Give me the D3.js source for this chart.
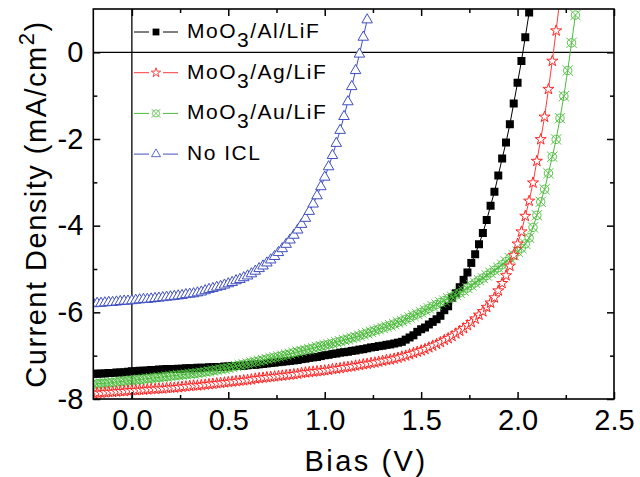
<!DOCTYPE html>
<html>
<head>
<meta charset="utf-8">
<script src="https://cdn.jsdelivr.net/npm/d3@7"></script>
<style>
  html, body { margin: 0; padding: 0; background: #fff; }
  svg { display: block; font-family: "Liberation Sans", Arial, sans-serif; }
</style>
</head>
<body>
<div id="chart"></div>
<script>
// Bias sweep (V), shared by all four devices
const bias = [
  -0.2, -0.18, -0.16, -0.14, -0.12, -0.1, -0.08, -0.06, -0.04, -0.02,
  0, 0.02, 0.04, 0.06, 0.08, 0.1, 0.12, 0.14, 0.16, 0.18,
  0.2, 0.22, 0.24, 0.26, 0.28, 0.3, 0.32, 0.34, 0.36, 0.38,
  0.4, 0.42, 0.44, 0.46, 0.48, 0.5, 0.52, 0.54, 0.56, 0.58,
  0.6, 0.62, 0.64, 0.66, 0.68, 0.7, 0.72, 0.74, 0.76, 0.78,
  0.8, 0.82, 0.84, 0.86, 0.88, 0.9, 0.92, 0.94, 0.96, 0.98,
  1.0, 1.02, 1.04, 1.06, 1.08, 1.1, 1.12, 1.14, 1.16, 1.18,
  1.2, 1.22, 1.24, 1.26, 1.28, 1.3, 1.32, 1.34, 1.36, 1.38,
  1.4, 1.42, 1.44, 1.46, 1.48, 1.5, 1.52, 1.54, 1.56, 1.58,
  1.6, 1.62, 1.64, 1.66, 1.68, 1.7, 1.72, 1.74, 1.76, 1.78,
  1.8, 1.82, 1.84, 1.86, 1.88, 1.9, 1.92, 1.94, 1.96, 1.98,
  2.0, 2.02, 2.04, 2.06, 2.08, 2.1, 2.12, 2.14, 2.16, 2.18,
  2.2, 2.22, 2.24, 2.26, 2.28, 2.3
];

// Current density (mA/cm2), one value per bias step
const jAl = [
  -7.42, -7.42, -7.41, -7.41, -7.40, -7.40, -7.39, -7.39, -7.38, -7.37,
  -7.36, -7.36, -7.35, -7.35, -7.34, -7.33, -7.33, -7.32, -7.32, -7.31,
  -7.31, -7.31, -7.30, -7.30, -7.29, -7.29, -7.29, -7.28, -7.28, -7.28,
  -7.27, -7.27, -7.26, -7.26, -7.25, -7.25, -7.24, -7.24, -7.23, -7.23,
  -7.22, -7.21, -7.21, -7.20, -7.19, -7.18, -7.17, -7.16, -7.15, -7.14,
  -7.13, -7.12, -7.11, -7.10, -7.08, -7.07, -7.05, -7.04, -7.03, -7.01,
  -6.99, -6.98, -6.96, -6.95, -6.93, -6.92, -6.91, -6.89, -6.88, -6.86,
  -6.85, -6.83, -6.81, -6.80, -6.78, -6.77, -6.75, -6.74, -6.72, -6.70,
  -6.68, -6.63, -6.58, -6.53, -6.45, -6.39, -6.35, -6.28, -6.22, -6.16,
  -6.08, -5.95, -5.86, -5.66, -5.56, -5.42, -5.25, -5.08, -4.86, -4.66,
  -4.43, -4.17, -3.87, -3.54, -3.22, -2.84, -2.45, -2.08, -1.66, -1.18,
  -0.70, -0.20, 0.35, 0.92
];
const jAg = [
  -7.87, -7.86, -7.86, -7.85, -7.84, -7.84, -7.83, -7.82, -7.82, -7.81,
  -7.80, -7.80, -7.79, -7.79, -7.78, -7.77, -7.77, -7.76, -7.76, -7.75,
  -7.74, -7.74, -7.73, -7.72, -7.71, -7.70, -7.69, -7.69, -7.68, -7.67,
  -7.66, -7.65, -7.64, -7.63, -7.62, -7.61, -7.60, -7.59, -7.58, -7.57,
  -7.56, -7.55, -7.53, -7.52, -7.51, -7.50, -7.49, -7.48, -7.47, -7.46,
  -7.45, -7.44, -7.43, -7.42, -7.40, -7.39, -7.38, -7.37, -7.36, -7.35,
  -7.34, -7.33, -7.31, -7.30, -7.29, -7.27, -7.26, -7.25, -7.23, -7.22,
  -7.20, -7.19, -7.17, -7.16, -7.14, -7.12, -7.10, -7.09, -7.07, -7.05,
  -7.02, -7.00, -6.97, -6.94, -6.91, -6.88, -6.85, -6.81, -6.77, -6.73,
  -6.69, -6.64, -6.60, -6.55, -6.49, -6.43, -6.37, -6.30, -6.23, -6.15,
  -6.06, -5.98, -5.88, -5.78, -5.66, -5.50, -5.33, -5.15, -4.93, -4.68,
  -4.42, -4.14, -3.78, -3.43, -3.01, -2.51, -2.01, -1.49, -0.85, -0.20,
  0.50, 1.25
];
const jAu = [
  -7.66, -7.65, -7.64, -7.64, -7.63, -7.62, -7.61, -7.60, -7.59, -7.58,
  -7.57, -7.56, -7.55, -7.54, -7.53, -7.52, -7.51, -7.50, -7.49, -7.48,
  -7.47, -7.46, -7.45, -7.44, -7.43, -7.42, -7.41, -7.40, -7.39, -7.37,
  -7.36, -7.34, -7.33, -7.31, -7.30, -7.28, -7.26, -7.24, -7.22, -7.20,
  -7.18, -7.16, -7.14, -7.12, -7.10, -7.08, -7.06, -7.04, -7.02, -7.00,
  -6.98, -6.96, -6.93, -6.91, -6.89, -6.87, -6.85, -6.83, -6.80, -6.78,
  -6.76, -6.74, -6.72, -6.69, -6.67, -6.64, -6.62, -6.59, -6.57, -6.54,
  -6.51, -6.48, -6.45, -6.42, -6.39, -6.36, -6.33, -6.30, -6.27, -6.23,
  -6.20, -6.16, -6.12, -6.08, -6.04, -6.00, -5.95, -5.91, -5.86, -5.82,
  -5.77, -5.73, -5.68, -5.64, -5.60, -5.55, -5.50, -5.44, -5.38, -5.32,
  -5.26, -5.21, -5.15, -5.09, -5.03, -4.97, -4.90, -4.83, -4.75, -4.68,
  -4.60, -4.52, -4.42, -4.28, -4.04, -3.76, -3.45, -3.16, -2.79, -2.41,
  -2.01, -1.52, -1.01, -0.42, 0.22, 0.86
];
const jNoIcl = [
  -5.80, -5.79, -5.79, -5.78, -5.77, -5.77, -5.76, -5.75, -5.74, -5.74,
  -5.73, -5.72, -5.71, -5.70, -5.70, -5.69, -5.68, -5.67, -5.66, -5.65,
  -5.64, -5.63, -5.62, -5.61, -5.59, -5.58, -5.57, -5.55, -5.53, -5.50,
  -5.47, -5.45, -5.42, -5.40, -5.37, -5.34, -5.31, -5.27, -5.24, -5.20,
  -5.16, -5.11, -5.05, -4.99, -4.93, -4.86, -4.79, -4.71, -4.62, -4.53,
  -4.43, -4.33, -4.22, -4.10, -3.97, -3.83, -3.67, -3.50, -3.31, -3.10,
  -2.88, -2.64, -2.38, -2.10, -1.80, -1.48, -1.14, -0.79, -0.42, -0.04,
  0.35, 0.75
];

const seriesLabels = [["MoO", "3", "/Al/LiF"], ["MoO", "3", "/Ag/LiF"], ["MoO", "3", "/Au/LiF"], ["No ICL", "", ""]];
const xTicks = [0, 0.5, 1, 1.5, 2, 2.5];
const xMinor = [0.25, 0.75, 1.25, 1.75, 2.25];
const yTicks = [-8, -6, -4, -2, 0];
const yMinor = [-7, -5, -3, -1];

const width = 640, height = 477;
const margin = { left: 93.3, right: 26, top: 9, bottom: 78 };
const fontStack = '"Liberation Sans", Arial, sans-serif';

const svg = d3.select("#chart").append("svg")
  .attr("width", width)
  .attr("height", height)
  .style("background", "#fff");

const x = d3.scaleLinear().domain([-0.2, 2.5]).range([margin.left, width - margin.right]);
const y = d3.scaleLinear().domain([-8, 1]).range([height - margin.bottom, margin.top]);

const yBottom = y.range()[0], yTop = y.range()[1];
const xLeft = x.range()[0], xRight = x.range()[1];

svg.append("defs").append("clipPath").attr("id", "plot-clip")
  .append("rect")
  .attr("x", xLeft).attr("y", yTop)
  .attr("width", xRight - xLeft)
  .attr("height", yBottom - yTop);

// zero reference lines
svg.append("line")
  .attr("x1", xLeft).attr("x2", xRight).attr("y1", y(0)).attr("y2", y(0))
  .attr("stroke", "#000").attr("stroke-width", 1.3);
svg.append("line")
  .attr("x1", x(0)).attr("x2", x(0)).attr("y1", yBottom).attr("y2", yTop)
  .attr("stroke", "#000").attr("stroke-width", 1.3);

// marker shapes
const squarePath = d3.symbol().type(d3.symbolSquare).size(64)();
const starPath = d3.symbol().type(d3.symbolStar).size(38)();
const trianglePath = d3.symbol().type(d3.symbolTriangle).size(48)();
const crossCirclePath = "M-4.2,0A4.2,4.2 0 1,0 4.2,0A4.2,4.2 0 1,0 -4.2,0" +
  "M-5.2,-5.2L5.2,5.2M-5.2,5.2L5.2,-5.2";

const series = [
  { values: jAl, color: "#000000", line: "#000000", path: squarePath, fill: "#000000", sw: 0 },
  { values: jAu, color: "#4cbb3c", line: "#4cbb3c", path: crossCirclePath, fill: "none", sw: 0.9 },
  { values: jAg, color: "#ff2525", line: "#ff3a3a", path: starPath, fill: "#fff", sw: 1 },
  { values: jNoIcl, color: "#3f4fbf", line: "#3f4fbf", path: trianglePath, fill: "#fff", sw: 1 }
];

const plot = svg.append("g").attr("clip-path", "url(#plot-clip)");
const line = d3.line().x(d => x(d[0])).y(d => y(d[1]));

series.forEach(s => {
  const pts = s.values.map((v, i) => [bias[i], v]);
  plot.append("path")
    .datum(pts)
    .attr("fill", "none")
    .attr("stroke", s.line)
    .attr("stroke-width", 1)
    .attr("d", line);
  plot.append("g")
    .selectAll("path")
    .data(pts)
    .join("path")
    .attr("transform", d => `translate(${x(d[0])},${y(d[1])})`)
    .attr("d", s.path)
    .attr("fill", s.fill)
    .attr("stroke", s.sw ? s.color : "none")
    .attr("stroke-width", s.sw);
});

// axes: ticks point inward on all four sides
function styleAxis(g) {
  g.select(".domain").remove();
  g.selectAll(".tick line").attr("stroke", "#000").attr("stroke-width", 1.5);
  g.selectAll(".tick text")
    .attr("fill", "#000")
    .style("font-size", "29px")
    .style("font-family", fontStack);
}

svg.append("g").attr("transform", `translate(0,${yBottom})`)
  .call(d3.axisBottom(x).tickValues(xTicks).tickSize(-7).tickPadding(10).tickFormat(d3.format(".1f")))
  .call(styleAxis);
svg.append("g").attr("transform", `translate(0,${yBottom})`)
  .call(d3.axisBottom(x).tickValues(xMinor).tickSize(-4).tickFormat(""))
  .call(styleAxis);
svg.append("g").attr("transform", `translate(0,${yTop})`)
  .call(d3.axisTop(x).tickValues(xTicks).tickSize(-7).tickFormat(""))
  .call(styleAxis);
svg.append("g").attr("transform", `translate(0,${yTop})`)
  .call(d3.axisTop(x).tickValues(xMinor).tickSize(-4).tickFormat(""))
  .call(styleAxis);

svg.append("g").attr("transform", `translate(${xLeft},0)`)
  .call(d3.axisLeft(y).tickValues(yTicks).tickSize(-7).tickPadding(10).tickFormat(d => String(d)))
  .call(styleAxis);
svg.append("g").attr("transform", `translate(${xLeft},0)`)
  .call(d3.axisLeft(y).tickValues(yMinor).tickSize(-4).tickFormat(""))
  .call(styleAxis);
svg.append("g").attr("transform", `translate(${xRight},0)`)
  .call(d3.axisRight(y).tickValues(yTicks).tickSize(-7).tickFormat(""))
  .call(styleAxis);
svg.append("g").attr("transform", `translate(${xRight},0)`)
  .call(d3.axisRight(y).tickValues(yMinor).tickSize(-4).tickFormat(""))
  .call(styleAxis);

// frame
svg.append("rect")
  .attr("x", xLeft).attr("y", yTop)
  .attr("width", xRight - xLeft).attr("height", yBottom - yTop)
  .attr("fill", "none").attr("stroke", "#000").attr("stroke-width", 1.6);

// axis titles
svg.append("text")
  .attr("x", 366).attr("y", 471)
  .attr("text-anchor", "middle")
  .style("font-size", "29px")
  .style("letter-spacing", "2.5px")
  .text("Bias (V)");

const yTitle = svg.append("text")
  .attr("transform", "translate(46,204) rotate(-90)")
  .attr("text-anchor", "middle")
  .style("font-size", "29px")
  .style("letter-spacing", "1.5px");
yTitle.append("tspan").text("Current Density (mA/cm");
yTitle.append("tspan").attr("dy", -12).style("font-size", "22px").text("2");
yTitle.append("tspan").attr("dy", 12).text(")");

// legend
const legend = svg.append("g").attr("transform", "translate(134,32)");
const legendOrder = [
  { s: series[0], label: seriesLabels[0] },
  { s: series[2], label: seriesLabels[1] },
  { s: series[1], label: seriesLabels[2] },
  { s: series[3], label: seriesLabels[3] }
];
legendOrder.forEach((item, i) => {
  const row = legend.append("g").attr("transform", `translate(0,${i * 40.7})`);
  row.append("line").attr("x1", 0).attr("x2", 15).attr("stroke", item.s.line).attr("stroke-width", 1);
  row.append("line").attr("x1", 29).attr("x2", 44).attr("stroke", item.s.line).attr("stroke-width", 1);
  row.append("path")
    .attr("transform", "translate(22,0) scale(0.85)")
    .attr("d", item.s.path)
    .attr("fill", item.s.fill)
    .attr("stroke", item.s.sw ? item.s.color : "none")
    .attr("stroke-width", item.s.sw);
  const t = row.append("text")
    .attr("x", 53).attr("y", 6)
    .style("font-size", "21px")
    .style("letter-spacing", "1.5px");
  t.append("tspan").text(item.label[0]);
  if (item.label[1]) {
    t.append("tspan").attr("dy", 9).text(item.label[1]);
    t.append("tspan").attr("dy", -9).text(item.label[2]);
  }
});
</script>
</body>
</html>
